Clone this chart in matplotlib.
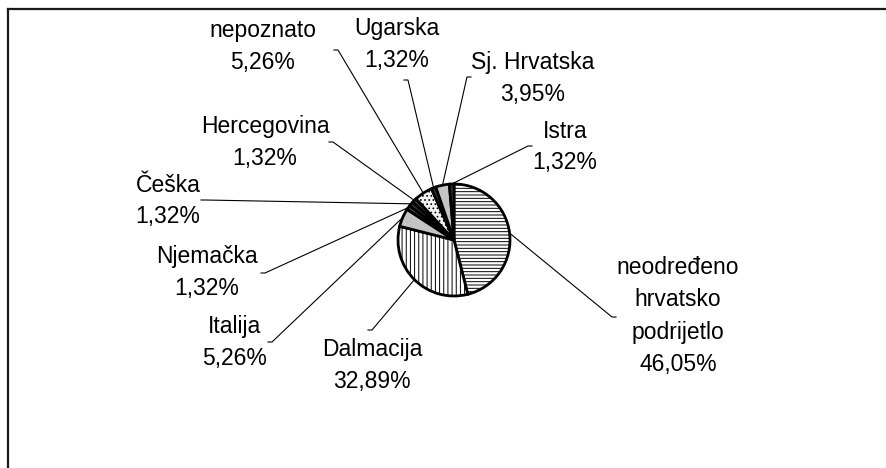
import matplotlib
matplotlib.use('Agg')
import matplotlib.pyplot as plt
import numpy as np
from matplotlib.lines import Line2D

# ---- data ----
labels = ['neodređeno\nhrvatsko\npodrijetlo', 'Dalmacija', 'Italija', 'Njemačka',
          'Češka', 'Hercegovina', 'nepoznato', 'Ugarska', 'Sj. Hrvatska', 'Istra']
values = [46.05, 32.89, 5.26, 1.32, 1.32, 1.32, 5.26, 1.32, 3.95, 1.32]

# ---- styles ----
facecolors = ['white', 'white', '#c4c4c4', '#3a3a3a', '#3a3a3a', '#3a3a3a',
              '#f2f2f2', '#3a3a3a', '#c4c4c4', '#3a3a3a']
hatches = ['-----', '||||', None, None, None, None, '....', None, None, None]

# ---- layout (image pixel coords, y downward) ----
W, H = 887, 468
pie_center_px = (454, 240)
pie_radius_px = 56
label_centers_px = [(678, 316), (372, 366), (235, 343), (207, 272), (168, 201),
                    (265, 142), (263, 47), (397, 45), (533, 78), (565, 147)]
leader_starts_px = [(612, 317), (372, 330), (272, 342), (265, 273), (205, 200),
                    (333, 142), (338, 50), (408, 80), (467, 77), (528, 146)]

plt.rcParams['hatch.linewidth'] = 0.7
plt.rcParams['font.family'] = ['Liberation Sans', 'DejaVu Sans']

fig = plt.figure(figsize=(W / 100, H / 100), dpi=100)
ax = fig.add_axes([0, 0, 1, 1])

cx, cy = pie_center_px[0], H - pie_center_px[1]
wedges, _ = ax.pie(values, center=(cx, cy), radius=pie_radius_px,
                   startangle=90, counterclock=False,
                   wedgeprops=dict(edgecolor='black', linewidth=2.0))
for w, fc, ht in zip(wedges, facecolors, hatches):
    w.set_facecolor(fc)
    if ht:
        w.set_hatch(ht)

ax.set_xlim(0, W)
ax.set_ylim(0, H)
ax.set_aspect('equal')
ax.axis('off')

for w, lab, v, (lx, ly), (sx, sy) in zip(wedges, labels, values,
                                         label_centers_px, leader_starts_px):
    mid = np.deg2rad((w.theta1 + w.theta2) / 2)
    ex = cx + pie_radius_px * np.cos(mid)
    ey = cy + pie_radius_px * np.sin(mid)
    sy_d = H - sy
    tick = 4 if lx > sx else -4
    ax.plot([sx + tick, sx, ex], [sy_d, sy_d, ey], color='black', lw=0.8,
            solid_joinstyle='miter', zorder=0)
    pct = f"{v:.2f}".replace('.', ',') + '%'
    ax.text(lx, H - ly, lab + '\n' + pct, ha='center', va='center',
            fontsize=16.5, linespacing=1.5, color='black')

# chart frame (left and top edges visible)
fig.add_artist(Line2D([8.5 / W, 8.5 / W], [0, 1 - 9 / H], transform=fig.transFigure,
                      color='#1a1a1a', lw=1.6))
fig.add_artist(Line2D([8.5 / W, 1], [1 - 9 / H, 1 - 9 / H], transform=fig.transFigure,
                      color='#1a1a1a', lw=1.6))

fig.savefig('out.png', dpi=100)
